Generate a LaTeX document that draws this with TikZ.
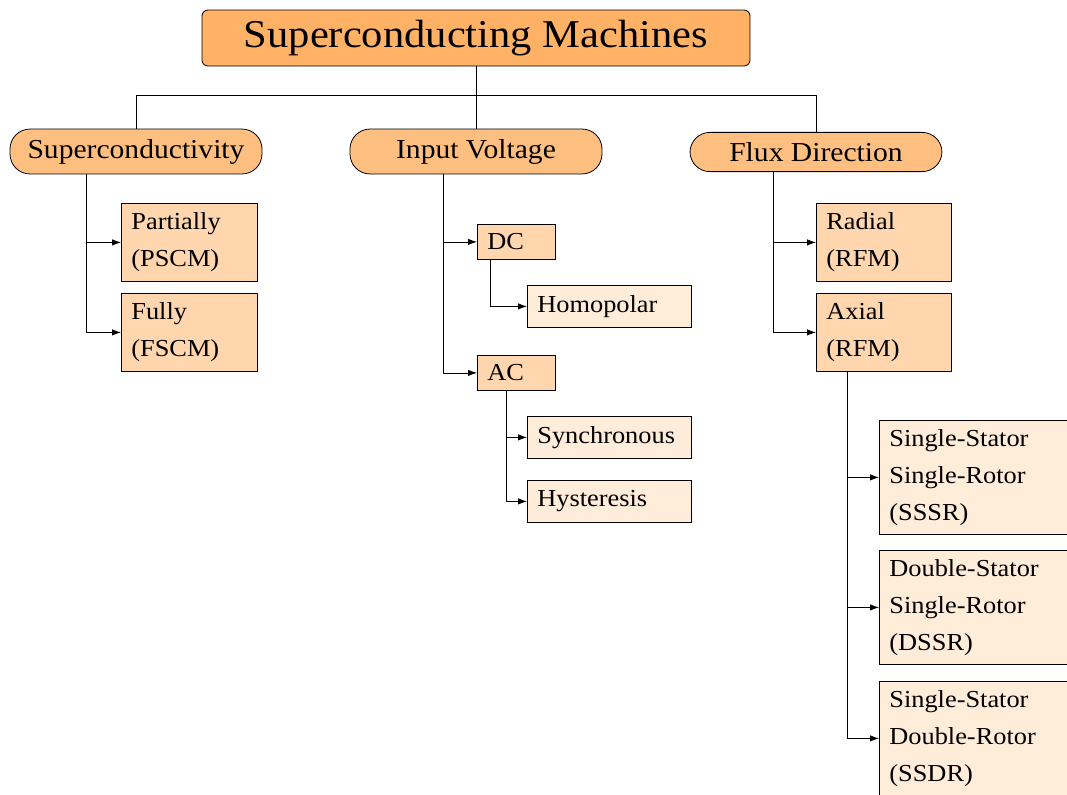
\documentclass[tikz,border=0pt]{standalone}
\usepackage{fontspec}
\setmainfont{Liberation Serif}[FakeStretch=1.08]
\usepackage{tikz}
\usetikzlibrary{calc,arrows.meta,positioning}
\tikzstyle{root}=[draw,fill=orange!60,rounded corners=3pt,minimum width=274pt,minimum height=28pt,font=\fontsize{19.7}{24}\selectfont]
\tikzstyle{group}=[draw,fill=orange!50,rounded corners=10pt,minimum width=126pt,inner ysep=5pt,font=\fontsize{13.7}{16}\selectfont]
\tikzstyle{kind}=[draw,fill=orange!32,anchor=north west,align=left,inner xsep=5pt,font=\fontsize{12.2}{18.5}\selectfont]
\tikzstyle{sub}=[draw,fill=orange!15,anchor=north west,align=left,inner xsep=5pt,font=\fontsize{12.2}{18.5}\selectfont]
\tikzstyle{link}=[-{Latex[length=4.5pt,width=3.2pt]}]

\begin{document}
\begin{tikzpicture}[x=0.5pt,y=-0.5pt]
\useasboundingbox (0,0) rectangle (1067,794);
% top level
\node [root] (sm) at (476,38) {Superconducting Machines};
\node [group] (sc) at (136,151.5) {Superconductivity};
\node [group] (iv) at (476,151.5) {Input Voltage};
\node [group] (fd) at (816,152) {Flux Direction};
\coordinate (bus) at ($(sm.south)+(0,29)$);
\draw (sm.south) -- (iv.north);
\draw (sc.north) |- (bus) -| (fd.north);
% superconductivity
\node [kind,text width=58pt,minimum height=39pt] (pscm) at (121,203) {Partially\\(PSCM)};
\node [kind,text width=58pt,minimum height=39pt] (fscm) at (121,293) {Fully\\(FSCM)};
\draw [link] ($(sc.south west)+(77,0)$) |- (pscm.west);
\draw [link] ($(sc.south west)+(77,0)$) |- (fscm.west);
% input voltage
\node [kind,text width=29pt,minimum height=17.5pt] (dc) at (477,224) {DC};
\node [kind,text width=29pt,minimum height=17.5pt] (ac) at (477,355) {AC};
\draw [link] ($(iv.south west)+(94,0)$) |- (dc.west);
\draw [link] ($(iv.south west)+(94,0)$) |- (ac.west);
\node [sub,text width=72pt,minimum height=21pt] (homo) at (527,285) {Homopolar};
\node [sub,text width=72pt,minimum height=21pt] (sync) at (527,416) {Synchronous};
\node [sub,text width=72pt,minimum height=21pt] (hyst) at (527,480) {Hysteresis};
\draw [link] ($(dc.south west)+(13,0)$) |- (homo.west);
\draw [link] ($(ac.south west)+(29,0)$) |- (sync.west);
\draw [link] ($(ac.south west)+(29,0)$) |- (hyst.west);
% flux direction
\node [kind,text width=57.5pt,minimum height=39pt] (rad) at (816,203) {Radial\\(RFM)};
\node [kind,text width=57.5pt,minimum height=39pt] (axi) at (816,293) {Axial\\(RFM)};
\draw [link] ($(fd.south west)+(84,0)$) |- (rad.west);
\draw [link] ($(fd.south west)+(84,0)$) |- (axi.west);
\node [sub,text width=95pt,minimum height=57pt] (sssr) at (879,420) {Single-Stator\\Single-Rotor\\(SSSR)};
\node [sub,text width=95pt,minimum height=57pt] (dssr) at (879,550) {Double-Stator\\Single-Rotor\\(DSSR)};
\node [sub,text width=95pt,minimum height=57pt] (ssdr) at (879,681) {Single-Stator\\Double-Rotor\\(SSDR)};
\draw [link] ($(axi.south west)+(31,0)$) |- (sssr.west);
\draw [link] ($(axi.south west)+(31,0)$) |- (dssr.west);
\draw [link] ($(axi.south west)+(31,0)$) |- (ssdr.west);
\end{tikzpicture}
\end{document}
